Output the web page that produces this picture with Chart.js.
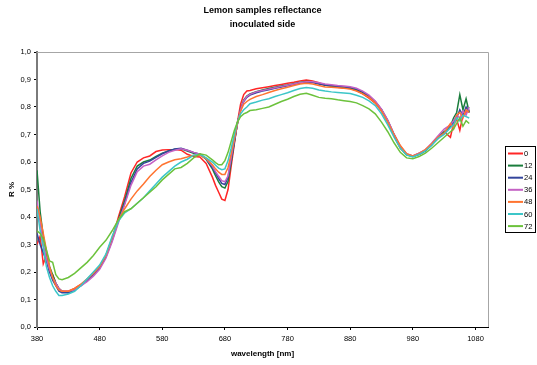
<!DOCTYPE html>
<html>
<head>
<meta charset="utf-8">
<script src="https://cdn.jsdelivr.net/npm/chart.js@4.4.1/dist/chart.umd.min.js"></script>
<style>
  html, body { margin: 0; padding: 0; background: #fff; }
  #wrap { width: 537px; height: 365px; }
</style>
</head>
<body>
<div id="wrap"><canvas id="spectra" width="537" height="365"></canvas></div>
<script>
// wavelength in nm, reflectance as fraction
const wavelengths = [380,385,390,395,400,405,410,415,420,
  430,440,450,460,470,480,490,500,510,520,530,540,550,560,570,580,590,600,610,620,630,640,650,660,
  665,670,675,680,685,690,695,700,705,710,715,720,
  730,740,750,760,770,780,790,800,810,820,830,840,850,860,870,880,890,900,910,920,930,940,950,960,970,980,990,1000,1010,1020,1030,1040,
  1045,1050,1055,1060,1065,1070];

const r0 = [.30,.33,.23,.26,.20,.19,.16,.14,.13,
  .13,.14,.155,.17,.19,.215,.26,.32,.40,.475,.56,.60,.615,.622,.638,.644,.645,.645,.643,.628,.62,.618,.595,.545,
  .515,.49,.465,.46,.50,.585,.665,.745,.81,.845,.858,.86,
  .866,.87,.874,.878,.882,.886,.89,.895,.898,.895,.888,.88,.876,.872,.869,.867,.86,.848,.832,.814,.785,.745,.695,.65,.627,.622,.632,.642,.665,.685,.71,.69,
  .74,.755,.715,.77,.78,.79];
const r12 = [.57,.42,.33,.27,.22,.19,.16,.14,.13,
  .125,.135,.15,.17,.195,.22,.26,.32,.39,.46,.54,.585,.60,.607,.62,.632,.64,.646,.648,.64,.632,.628,.61,.575,
  .55,.528,.51,.505,.53,.60,.67,.74,.79,.825,.84,.848,
  .856,.862,.867,.872,.876,.88,.885,.89,.893,.892,.885,.879,.876,.873,.871,.869,.863,.853,.838,.818,.79,.75,.70,.655,.628,.62,.628,.64,.665,.69,.71,.73,
  .76,.78,.845,.79,.83,.78];
const r24 = [.34,.30,.27,.24,.20,.17,.15,.13,.125,
  .125,.135,.15,.17,.19,.215,.255,.315,.385,.45,.525,.575,.595,.603,.617,.63,.64,.647,.65,.643,.635,.628,.612,.58,
  .56,.54,.522,.518,.545,.61,.675,.74,.79,.82,.835,.843,
  .852,.858,.863,.868,.873,.877,.882,.887,.89,.889,.884,.88,.878,.875,.873,.871,.865,.855,.84,.82,.79,.75,.70,.655,.627,.62,.628,.64,.662,.69,.705,.73,
  .745,.76,.79,.77,.80,.78];
const r36 = [.46,.38,.30,.25,.21,.18,.16,.14,.13,
  .13,.135,.15,.165,.185,.21,.25,.31,.38,.445,.515,.565,.585,.592,.608,.622,.635,.643,.648,.643,.635,.628,.613,.585,
  .565,.548,.532,.528,.55,.615,.68,.742,.79,.822,.838,.846,
  .855,.86,.865,.87,.875,.879,.884,.889,.892,.892,.888,.884,.881,.878,.876,.874,.868,.858,.843,.822,.792,.752,.702,.658,.63,.622,.632,.645,.668,.695,.72,.735,
  .75,.77,.76,.785,.77,.80];
const r48 = [.44,.40,.34,.28,.22,.18,.15,.135,.13,
  .13,.14,.155,.175,.195,.22,.26,.325,.39,.43,.465,.495,.52,.547,.57,.59,.60,.608,.612,.618,.625,.625,.612,.59,
  .575,.563,.555,.555,.58,.63,.685,.74,.785,.81,.82,.828,
  .838,.845,.853,.86,.866,.872,.878,.884,.886,.884,.878,.873,.872,.87,.868,.865,.858,.848,.835,.815,.785,.745,.70,.66,.63,.622,.63,.645,.665,.69,.705,.74,
  .72,.77,.78,.76,.79,.78];
const r60 = [.43,.35,.29,.22,.18,.15,.13,.115,.115,
  .12,.13,.15,.175,.20,.225,.265,.33,.385,.415,.43,.45,.47,.495,.52,.545,.565,.585,.60,.61,.625,.628,.615,.60,
  .588,.578,.572,.575,.605,.65,.70,.745,.775,.79,.80,.812,
  .818,.825,.83,.838,.845,.852,.86,.867,.871,.868,.862,.858,.855,.853,.851,.849,.843,.835,.822,.805,.775,.735,.69,.65,.625,.618,.628,.64,.66,.685,.70,.725,
  .735,.76,.75,.77,.765,.76];
const r72 = [.35,.34,.32,.28,.24,.235,.19,.175,.172,
  .18,.195,.215,.235,.26,.29,.315,.35,.39,.42,.43,.45,.47,.49,.51,.535,.555,.575,.58,.595,.615,.63,.625,.608,
  .598,.59,.59,.605,.635,.675,.715,.745,.765,.775,.78,.787,
  .79,.795,.80,.81,.82,.828,.838,.846,.85,.843,.835,.832,.83,.826,.823,.82,.815,.805,.793,.775,.745,.71,.67,.635,.615,.612,.62,.632,.65,.67,.69,.71,
  .72,.74,.76,.73,.75,.74];

const seriesLabels = ['0', '12', '24', '36', '48', '60', '72'];
const seriesValues = [r0, r12, r24, r36, r48, r60, r72];
const colors = ['#ff2626', '#1a7d3c', '#34459c', '#c462c4', '#ff7430', '#3cc6c8', '#6cc23c'];
const xTicks = [380, 480, 580, 680, 780, 880, 980, 1080];

const datasets = seriesValues.map((vals, i) => ({
  label: seriesLabels[i],
  data: vals.map((v, j) => ({ x: wavelengths[j], y: v })),
  borderColor: colors[i],
  backgroundColor: colors[i],
  borderWidth: 1.5,
  pointRadius: 0,
  tension: 0,
  fill: false,
  order: -i   // later series on top, as in the original
}));

// light frame on top/right of plot area + boxed legend at right
const frameAndLegend = {
  id: 'frameAndLegend',
  afterDraw(chart) {
    const c = chart.ctx;
    const a = chart.chartArea;
    c.save();
    c.strokeStyle = '#a6a6a6';
    c.lineWidth = 1;
    c.beginPath();
    c.moveTo(a.left, Math.round(a.top) + 0.5);
    c.lineTo(Math.round(a.right) + 0.5, Math.round(a.top) + 0.5);
    c.lineTo(Math.round(a.right) + 0.5, a.bottom);
    c.stroke();

    // legend box
    c.strokeStyle = '#000';
    c.strokeRect(505.5, 146.5, 30, 86);
    c.font = '7.5px "Liberation Sans", Arial, sans-serif';
    c.textBaseline = 'middle';
    c.textAlign = 'left';
    chart.data.datasets.forEach((ds, i) => {
      const y = 153.5 + i * 12.1;
      c.strokeStyle = ds.borderColor;
      c.lineWidth = 2;
      c.beginPath();
      c.moveTo(508, y);
      c.lineTo(523, y);
      c.stroke();
      c.fillStyle = '#000';
      c.fillText(ds.label, 524, y + 0.5);
    });
    c.restore();
  }
};

const ctx = document.getElementById('spectra').getContext('2d');
const chart = new Chart(ctx, {
  type: 'line',
  data: { datasets: datasets },
  plugins: [frameAndLegend],
  options: {
    responsive: false,
    animation: false,
    devicePixelRatio: 1,
    layout: { padding: { left: 0, right: 49, top: 0, bottom: 0 } },
    plugins: {
      legend: { display: false },
      tooltip: { enabled: false },
      title: {
        display: true,
        fullSize: false,
        text: ['Lemon samples reflectance', 'inoculated side'],
        color: '#000',
        font: { family: '"Liberation Sans", Arial, sans-serif', size: 9, weight: 'bold', lineHeight: 1.5 },
        padding: { top: 4, bottom: 21 }
      }
    },
    scales: {
      x: {
        type: 'linear',
        min: 380,
        max: 1100,
        afterBuildTicks: (axis) => { axis.ticks = xTicks.map(v => ({ value: v })); },
        afterFit: (axis) => { axis.height = 38; },
        grid: { drawOnChartArea: false, drawTicks: true, tickLength: 3, color: '#000' },
        border: { color: '#000', width: 1 },
        ticks: {
          color: '#000',
          padding: 4,
          maxRotation: 0,
          autoSkip: false,
          font: { family: '"Liberation Sans", Arial, sans-serif', size: 7.5 },
          callback: (v) => String(v)
        },
        title: {
          display: true,
          text: 'wavelength [nm]',
          color: '#000',
          font: { family: '"Liberation Sans", Arial, sans-serif', size: 8, weight: 'bold' },
          padding: { top: 0, bottom: 6 }
        }
      },
      y: {
        min: 0,
        max: 1,
        afterFit: (axis) => { axis.width = 37; },
        grid: { drawOnChartArea: false, drawTicks: true, tickLength: 3, color: '#000' },
        border: { color: '#7a7a7a', width: 2 },
        ticks: {
          stepSize: 0.1,
          color: '#000',
          padding: 3,
          font: { family: '"Liberation Sans", Arial, sans-serif', size: 7.5 },
          callback: (v) => v.toFixed(1).replace('.', ',')
        },
        title: {
          display: true,
          text: 'R %',
          color: '#000',
          font: { family: '"Liberation Sans", Arial, sans-serif', size: 8, weight: 'bold' },
          padding: { top: 7, bottom: 0 }
        }
      }
    }
  }
});
</script>
</body>
</html>
